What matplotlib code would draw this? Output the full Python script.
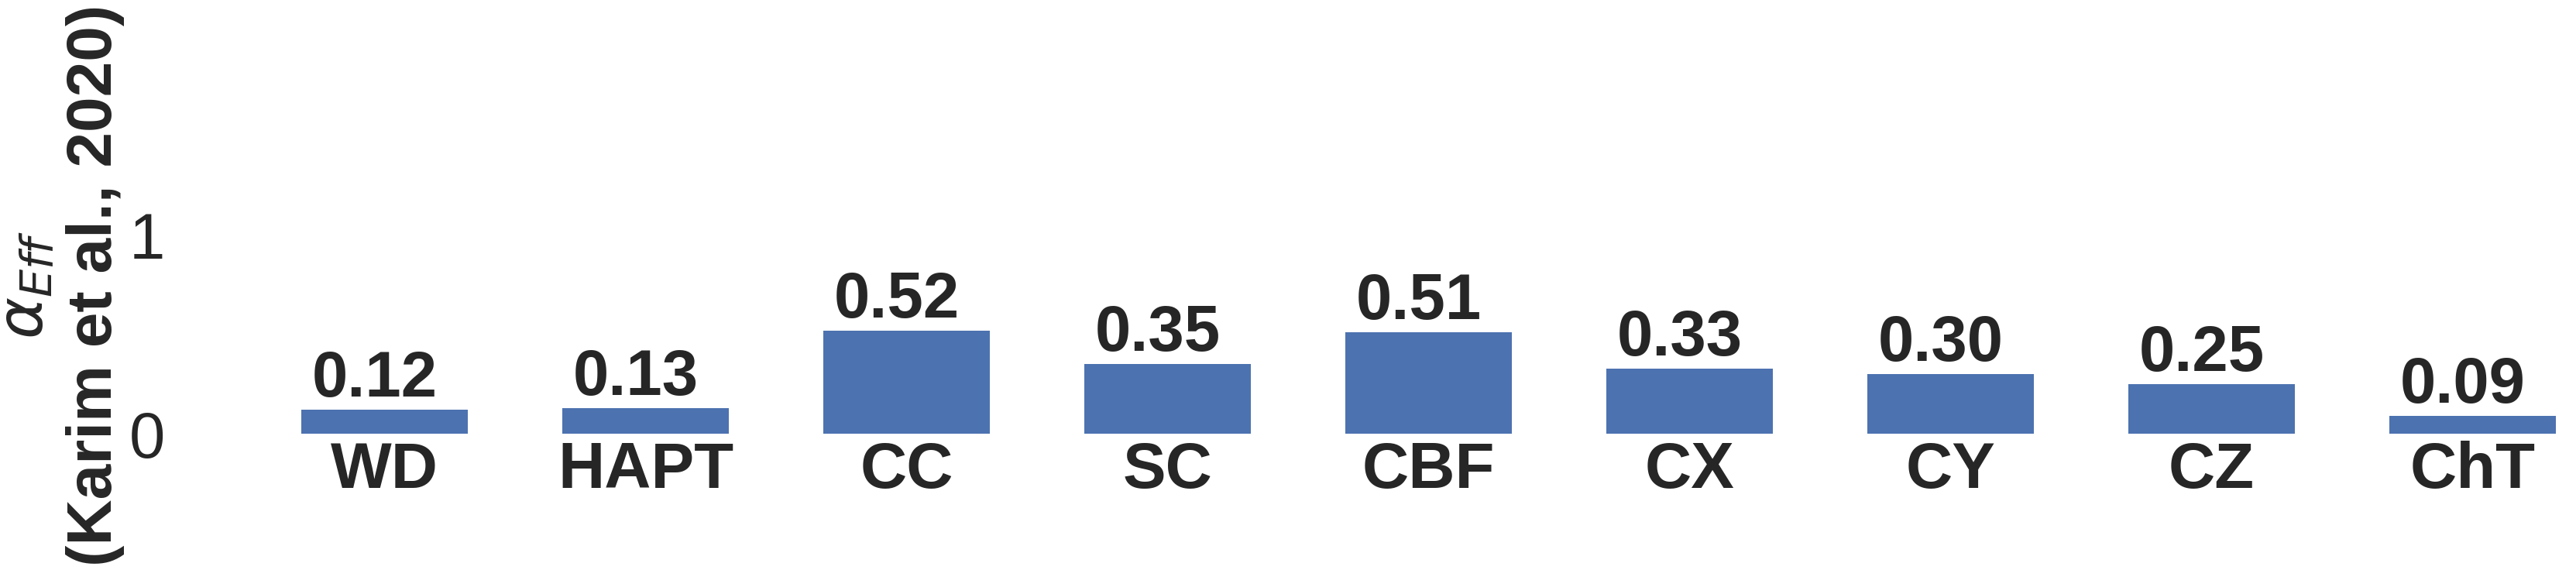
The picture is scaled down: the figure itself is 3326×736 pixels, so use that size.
import matplotlib
matplotlib.use("Agg")
import matplotlib.pyplot as plt

categories = ["WD", "HAPT", "CC", "SC", "CBF", "CX", "CY", "CZ", "ChT"]
values = [0.12, 0.13, 0.52, 0.35, 0.51, 0.33, 0.30, 0.25, 0.09]
value_labels = ["0.12", "0.13", "0.52", "0.35", "0.51", "0.33", "0.30", "0.25", "0.09"]
ytick_values = [0, 1]
ytick_labels = ["0", "1"]

TEXT = "#262626"
BAR = "#4C72B0"
plt.rcParams["font.family"] = ["Liberation Sans", "DejaVu Sans"]
plt.rcParams["text.color"] = TEXT
plt.rcParams["axes.labelcolor"] = TEXT
plt.rcParams["xtick.color"] = TEXT
plt.rcParams["ytick.color"] = TEXT

W, H = 3326, 736
fig = plt.figure(figsize=(W / 100, H / 100), dpi=100)
left_px, bottom_px, top_px = 222, 560, 176
ax = fig.add_axes([left_px / W, (H - bottom_px) / H, (W - left_px) / W, (bottom_px - top_px) / H])

x = list(range(len(categories)))
bars = ax.bar(x, values, width=0.64, color=BAR)

spacing_px = 337.0
first_px = 496.5
xl = -(first_px - left_px) / spacing_px
xr = xl + (W - left_px) / spacing_px
ax.set_xlim(xl, xr)
ax.set_ylim(0, 1.5)

for b, lab in zip(bars, value_labels):
    ax.annotate(lab, (b.get_x() + b.get_width() / 2, b.get_height()),
                xytext=(-9, 0), textcoords="offset points",
                ha="center", va="bottom", fontsize=60, fontweight="bold", color=TEXT)

ax.set_xticks(x)
ax.set_xticklabels(categories, fontsize=60, fontweight="bold")
ax.set_yticks(ytick_values)
ax.set_yticklabels(ytick_labels, fontsize=60)
ax.tick_params(axis="both", length=0, pad=6.5)
for s in ax.spines.values():
    s.set_visible(False)
ax.set_ylabel(r"$\alpha_{Eff}$" + "\n(Karim et al., 2020)", fontsize=59, fontweight="bold", labelpad=4)

fig.savefig("out.png", dpi=100)
